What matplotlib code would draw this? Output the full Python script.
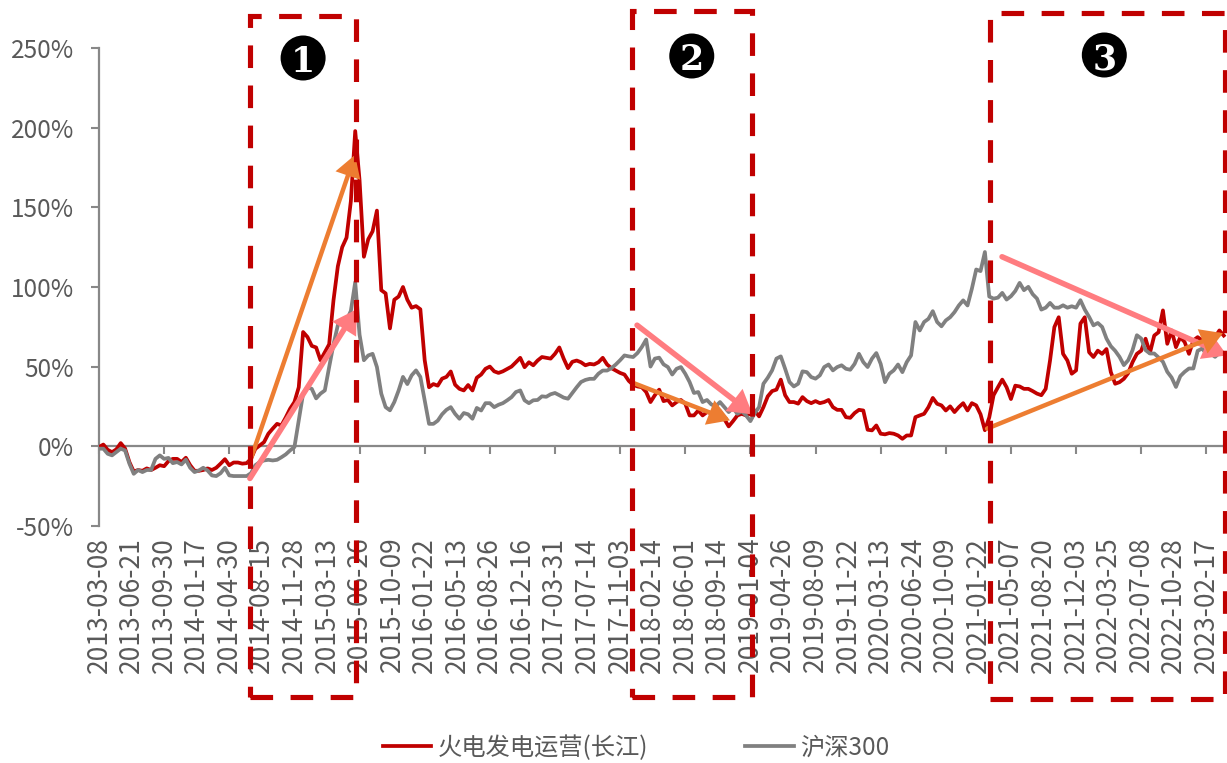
import numpy as np
import matplotlib
matplotlib.use("Agg")
import matplotlib.pyplot as plt
import matplotlib.transforms as mtransforms
from matplotlib.patches import Rectangle, Ellipse
from matplotlib.font_manager import FontProperties

CJK = ["Noto Sans CJK SC", "DejaVu Sans"]
plt.rcParams["font.family"] = CJK

# x-axis category labels (one every 15 weeks)
tick_dates = [
    "2013-03-08", "2013-06-21", "2013-09-30", "2014-01-17", "2014-04-30",
    "2014-08-15", "2014-11-28", "2015-03-13", "2015-06-26", "2015-10-09",
    "2016-01-22", "2016-05-13", "2016-08-26", "2016-12-16", "2017-03-31",
    "2017-07-14", "2017-11-03", "2018-02-14", "2018-06-01", "2018-09-14",
    "2019-01-04", "2019-04-26", "2019-08-09", "2019-11-22", "2020-03-13",
    "2020-06-24", "2020-10-09", "2021-01-22", "2021-05-07", "2021-08-20",
    "2021-12-03", "2022-03-25", "2022-07-08", "2022-10-28", "2023-02-17",
]

series_names = ["火电发电运营(长江)", "沪深300"]

# cumulative return (%), sampled every two weeks from 2013-03-08
thermal_power = [
    -0.6, 1, -2.3, -3.8, -2, 1.9, -1.5, -10, -16, -15, -15.5, -14, -15, -13.6,
    -12, -12.6, -9.4, -8, -8, -10, -7.3, -12, -15.5, -15.5, -15, -14, -15,
    -13.6, -11, -8.2, -12, -10.3, -10.3, -11, -10.7,
    -8, -1.7, 0.4, 2.5, 7.8, 11, 14, 13, 18, 23.5, 27.7, 37, 71.7, 68.6, 63,
    62, 54, 59, 64, 91.7, 113, 125, 131, 154, 198, 167, 119, 130, 135, 148,
    98, 96, 74, 92, 94, 100, 92, 87, 88, 86, 54, 37,
    39, 38, 42.4, 43.5, 46.9, 38.6, 36, 35, 38.4, 35, 43, 45, 48.6, 50, 47,
    46, 47, 48.5, 50, 52.7, 55.5, 49.6, 52.7, 50.8, 53.8, 56, 55.5, 55, 58,
    62, 55, 49, 53, 53.8, 52.7, 50.8, 51.7, 51.3, 52.7, 55.5, 51.3, 49, 47.5,
    46, 45, 41, 38.5, 37.5,
    37, 34, 27.7, 32, 35.5, 28.3, 29, 25.6, 27.7, 29, 26.7, 19.3, 19.3, 22.4,
    19.3, 21.4, 20.8, 22.4, 22, 17, 12.4, 15.7, 19.3, 20.3, 19.3, 20.3, 22.4,
    18.7, 24.5, 31.3, 34.6, 35.5, 41.8, 32, 27.7, 27.7, 26.7,
    30.8, 28.3, 27, 28.3, 27, 27.7, 29, 24.5, 22.8, 22.8, 18.2, 17.8, 20.8,
    22.8, 22.4, 10.3, 9.9, 13, 7.8, 7.4, 8.2, 7.8, 6.7, 4.6, 6.7, 6.7, 18.2,
    19.3, 20.3, 24.5, 30.3, 26.6, 25.6, 22.4, 25, 21.4, 24.5, 27, 22.4, 27,
    25.6,
    20, 10, 18, 32, 37, 41.8, 37, 29.6, 38, 37.5, 36, 36, 34.6, 33, 32, 36,
    53.8, 74.8, 81, 58, 53.8, 45.5, 47.6, 77, 81, 59, 56, 60, 58, 61, 46.5,
    39.2, 40.2, 42.3, 45.9, 52.8, 58, 60, 67.5, 58.5, 69.5, 71.6, 85.3, 64.3,
    72.7, 62.2, 68.5, 65.4, 58, 66.4, 68.5, 66.4, 67.5, 70.6, 68.5, 72.7, 69.5,
]

csi300 = [
    -1.6, -1.6, -4.8, -5.8, -3.7, -1.6, -2.7, -11, -17.4, -15, -16.3, -15,
    -15, -8, -5.8, -8, -7.4, -10.7, -10, -11.5, -8.5, -13.6, -16.3, -15.3,
    -13.6, -15.3, -18.4, -18.8, -17, -13.6, -18.4, -18.8, -18.8, -18.8, -18.8,
    -17, -12, -10, -9, -8.6, -9, -8.6, -7, -5.2, -2.7, -0.6, 16, 33, 37, 36,
    30, 33, 35, 49.7, 64, 76, 78, 79, 85, 103, 70, 54, 57, 58, 49.7, 33,
    24.5, 22.5, 27.7, 35, 43.5, 39, 44.5, 47.6, 43.5, 28.7, 14,
    14, 16, 20, 22.8, 24.5, 20.3, 17.2, 20.8, 20, 17.2, 24, 22.4, 27, 27,
    24.5, 26, 27, 28.8, 30.8, 34, 35, 28.8, 27, 28.8, 29, 31.3, 31, 32.6,
    33.4, 32, 30.5, 29.8, 33.4, 37, 40.3, 41.6, 42.3, 42.3, 45.5, 47.5, 47.5,
    49, 51.3, 54, 57, 56.4, 56, 58.5,
    62.3, 67, 50, 55, 55.6, 51.4, 49.7, 45, 48.6, 49.7, 45.5, 40.3, 33.4, 34,
    27.7, 29, 26.2, 25, 27.7, 24.5, 21.4, 24, 20.3, 22, 19.3, 15.7, 20.8,
    24.5, 39.2, 43, 47.6, 55, 56.4, 48.6, 40.3, 37.5, 39.2,
    47, 46.5, 43.4, 42.4, 44.5, 49.7, 51.3, 47.6, 49.7, 50.8, 48.6, 48, 51.7,
    58, 52.8, 49.7, 55, 58.5, 51.7, 40.2, 45.5, 47.6, 51.3, 46.5, 52.8, 57,
    78, 72.7, 78, 80, 84.8, 78, 75.3, 79, 81, 84.2, 88.4, 91.6, 88.4, 98.9,
    111,
    110, 122, 94, 92.7, 93.3, 96.3, 92.1, 94.2, 97.5, 102.6, 98, 100.1, 95.5,
    92.7, 85.8, 87, 90, 87, 87, 88.5, 87, 87.9, 87, 91.7, 85.8, 81.2, 75.9,
    77.4, 74.9, 67.6, 62.8, 59.9, 56.1, 50.9, 54, 60.3, 69.7, 67.6, 60.3,
    58.2, 58.2, 55.7, 53, 46.7, 43.1, 37.2, 44, 46.7, 48.8, 48.8, 59.9, 61.3,
    58.2, 58.2, 56.1, 58.6, 58.6,
]

y_ticks = [-50, 0, 50, 100, 150, 200, 250]

# highlighted periods: start week, end week, top px, bottom px, label, label week, label px
periods = [
    (69.5, 118.4, 16, 697, "1", 94.0, 58),
    (245.5, 300.8, 11, 697, "2", 273.0, 56),
    (410.3, 518.6, 13, 699, "3", 463.0, 55),
]

# trend arrows: ((week, %) start, (week, %) end, colour, width)
ORANGE = "#ED7D31"
PINK = "#FF7C80"
trend_arrows = [
    ((69.5, -9.6), (117.9, 183.0), ORANGE, 3.2),
    ((69.5, -20.3), (118.7, 86.0), PINK, 4.0),
    ((247.8, 76.0), (301.0, 20.0), PINK, 4.0),
    ((245.5, 40.0), (290.6, 16.2), ORANGE, 3.2),
    ((415.9, 119.0), (519.5, 57.0), PINK, 4.0),
    ((409.0, 11.0), (517.6, 71.0), ORANGE, 3.2),
]

RED = "#C00000"
GREY = "#808080"
AXIS = "#888888"
TEXT = "#595959"

W, H = 1227, 763
fig = plt.figure(figsize=(W / 100, H / 100), dpi=100)
ax = fig.add_axes([99 / W, 1 - 525.7 / H, (W - 99) / W, (525.7 - 48.3) / H])

weeks = np.arange(len(thermal_power)) * 2
l1, = ax.plot(weeks, thermal_power, color=RED, lw=2.7, solid_joinstyle="round",
              label=series_names[0], zorder=3)
l2, = ax.plot(weeks, csi300, color=GREY, lw=2.7, solid_joinstyle="round",
              label=series_names[1], zorder=4)

ax.set_xlim(0, (W - 99) / 2.1713)
ax.set_ylim(-50, 250)

for side in ("top", "right"):
    ax.spines[side].set_visible(False)
ax.spines["bottom"].set_position(("data", 0))
for side in ("bottom", "left"):
    ax.spines[side].set_color(AXIS)
    ax.spines[side].set_linewidth(1.6)

ax.set_yticks(y_ticks)
ax.set_yticklabels([f"{v}%" for v in y_ticks])
ax.tick_params(axis="y", direction="out", length=6, width=1.5, color=AXIS,
               labelcolor=TEXT, labelsize=17.5, pad=12)

ax.set_xticks(np.arange(0, 15 * len(tick_dates), 30))
ax.tick_params(axis="x", direction="out", length=6, width=1.5, color=AXIS,
               labelbottom=False)

sec = ax.secondary_xaxis(0)
sec.set_xticks(np.arange(0, 15 * len(tick_dates), 15))
sec.set_xticklabels(tick_dates, rotation=90)
sec.tick_params(length=0, pad=8, labelsize=19, labelcolor=TEXT)
sec.spines["bottom"].set_visible(False)

# trend arrows
for (x0, y0), (x1, y1), col, width in trend_arrows:
    ax.annotate("", xy=(x1, y1), xytext=(x0, y0),
                arrowprops=dict(arrowstyle="-|>,head_length=0.5,head_width=0.3",
                                color=col, lw=width, shrinkA=0, shrinkB=0,
                                mutation_scale=22, joinstyle="miter"),
                annotation_clip=False, zorder=5)

# dashed period boxes and their numbered markers
blend = mtransforms.blended_transform_factory(ax.transData, fig.transFigure)
for x0, x1, top, bottom, num, cx, cy in periods:
    rect = Rectangle((x0, 1 - bottom / H), x1 - x0, (bottom - top) / H,
                     transform=blend, fill=False, ec=RED, lw=3.7,
                     ls=(0, (4.4, 3.4)), clip_on=False, zorder=6)
    fig.add_artist(rect)
    circ = Ellipse((cx, 1 - cy / H), 45 / 2.1713, 45 / H, transform=blend,
                   fc="black", ec="none", clip_on=False, zorder=7)
    fig.add_artist(circ)
    fig.text(cx, 1 - (cy + 1) / H, num, transform=blend, ha="center",
             va="center_baseline", color="white", fontsize=25,
             family="DejaVu Serif", fontweight="bold", zorder=8)

fig.legend([l1, l2], series_names, loc="center",
           bbox_to_anchor=(636 / W, 1 - 748 / H), ncol=2, frameon=False,
           prop=FontProperties(family=CJK, size=17.5), labelcolor=TEXT,
           handlelength=2.0, handletextpad=0.25, columnspacing=4.0)

fig.savefig("out.png", dpi=100)
